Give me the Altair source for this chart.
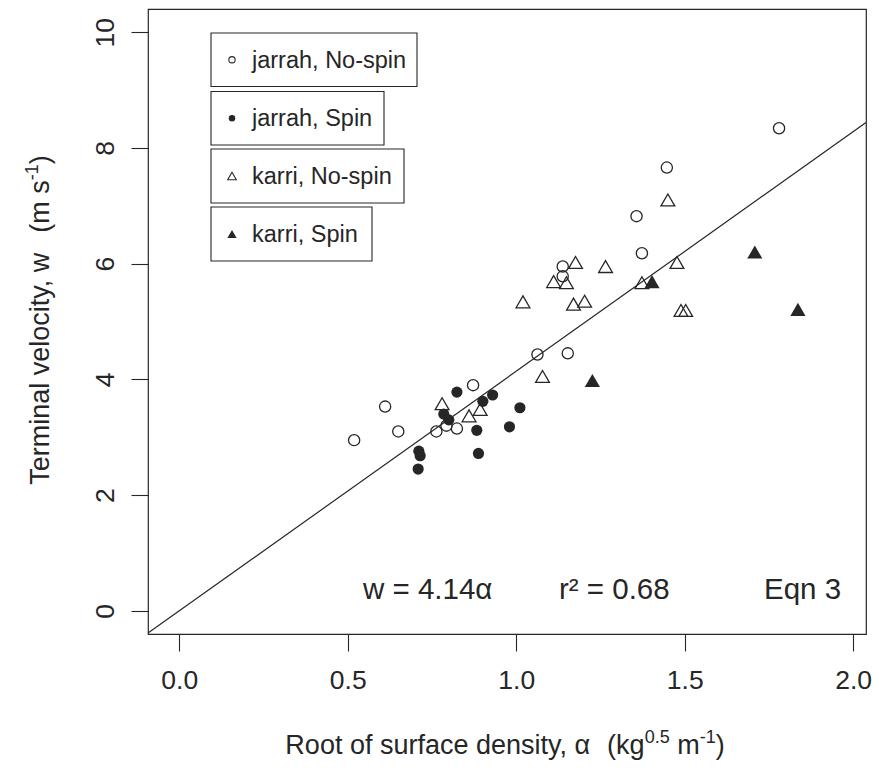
import altair as alt
import pandas as pd

# ---------------- data ----------------
jn_alpha = [0.519, 0.611, 0.650, 0.763, 0.793, 0.824, 0.872, 1.063, 1.153, 1.138, 1.138, 1.357, 1.373, 1.447, 1.780]
jn_w     = [2.95, 3.53, 3.10, 3.10, 3.20, 3.15, 3.90, 4.43, 4.45, 5.95, 5.78, 6.82, 6.18, 7.66, 8.34]

js_alpha = [0.824, 0.930, 0.901, 1.011, 0.785, 0.800, 0.883, 0.980, 0.711, 0.715, 0.888, 0.709]
js_w     = [3.78, 3.73, 3.62, 3.51, 3.40, 3.30, 3.12, 3.18, 2.76, 2.68, 2.72, 2.45]

kn_alpha = [1.450, 1.176, 1.265, 1.111, 1.149, 1.170, 1.203, 1.020, 1.373, 1.078, 0.780, 0.860, 0.893, 1.477, 1.489, 1.503]
kn_w     = [7.10, 6.02, 5.95, 5.69, 5.67, 5.30, 5.35, 5.34, 5.67, 4.05, 3.58, 3.37, 3.48, 6.02, 5.19, 5.19]

ks_alpha = [1.226, 1.403, 1.708, 1.836]
ks_w     = [3.98, 5.69, 6.20, 5.21]

slope = 4.14
x_domain = [-0.0927, 2.038]
y_domain = [-0.4, 10.4]

legend_labels = ["jarrah, No-spin", "jarrah, Spin", "karri, No-spin", "karri, Spin"]
x_ticks = [0, 0.5, 1.0, 1.5, 2.0]
y_ticks = [0, 2, 4, 6, 8, 10]

NB = "\u00a0"
# (text, kind): "n" normal, "s" superscript, "g" one-space gap
x_title = [("Root of surface density, α", "n"), ("", "g"), ("", "g"), ("(kg", "n"), ("0.5", "s"),
           ("", "g"), ("m", "n"), ("-1", "s"), (")", "n")]
y_title = [("Terminal velocity, w", "n"), ("", "g"), ("", "g"), ("(m" + NB + "s", "n"),
           ("-1", "s"), (")", "n")]

# ---------------- style ----------------
FONT = "Liberation Sans, Arial, Helvetica, sans-serif"
INK = "#262626"
W, H = 718, 625
TFS, SFS, RAISE = 27, 18, 11
xsc = alt.Scale(domain=x_domain, nice=False, zero=False)
ysc = alt.Scale(domain=y_domain, nice=False, zero=False)

# Arial / Liberation Sans advance widths (per 1000 em)
AW = {" ": 278, NB: 278, "(": 333, ")": 333, ",": 278, ".": 278, "-": 333,
      "a": 556, "c": 500, "d": 556, "e": 556, "f": 278, "g": 556, "i": 222, "k": 500,
      "l": 222, "m": 833, "n": 556, "o": 556, "r": 333, "s": 500, "t": 278, "u": 556,
      "v": 500, "w": 722, "y": 500, "R": 722, "T": 611, "α": 578}


def piece_width(s, kind):
    if kind == "g":
        return 278 * TFS / 1000
    fs = SFS if kind == "s" else TFS
    return sum(AW.get(c, 556) for c in s) * fs / 1000


xaxis = alt.Axis(values=x_ticks, format=".1f", grid=False, domain=False,
                 tickSize=17, tickColor=INK, tickWidth=1.1,
                 labelPadding=16, labelFontSize=26.5, labelFont=FONT, labelColor=INK,
                 title="")
yaxis = alt.Axis(values=y_ticks, format="d", grid=False, domain=False,
                 tickSize=17, tickColor=INK, tickWidth=1.1,
                 labelPadding=26, labelFontSize=26.5, labelFont=FONT, labelColor=INK,
                 labelAngle=270, labelAlign="center", labelBaseline="middle",
                 title="")

one = alt.Data(values=[{"k": 0}])

# regression line w = 4.14 alpha, across the whole plot
line = alt.Chart(pd.DataFrame({"alpha": x_domain})).transform_calculate(
    w=f"{slope} * datum.alpha"
).mark_line(color=INK, strokeWidth=1.2, clip=True).encode(
    x=alt.X("alpha:Q", scale=xsc, axis=xaxis),
    y=alt.Y("w:Q", scale=ysc, axis=yaxis),
)


def pts(a, w, shape, filled, size):
    m = alt.Chart(pd.DataFrame({"alpha": a, "w": w})).mark_point(
        shape=shape, filled=filled, size=size,
        color=INK, strokeWidth=1.3, opacity=1, fillOpacity=1
    )
    return m.encode(x=alt.X("alpha:Q", scale=xsc), y=alt.Y("w:Q", scale=ysc))


layers = [
    line,
    pts(jn_alpha, jn_w, "circle", False, 125),
    pts(js_alpha, js_w, "circle", True, 125),
    pts(kn_alpha, kn_w, "triangle-up", False, 190),
    pts(ks_alpha, ks_w, "triangle-up", True, 230),
]

# ---------------- four separate legend boxes ----------------
boxes = [(63, 269, 24, 77.5), (63, 236, 82.5, 136), (63, 256, 140, 194), (63, 224, 198, 252)]
syms = [("circle", False, 40), ("circle", True, 42), ("triangle-up", False, 75), ("triangle-up", True, 85)]
for (x0, x1, y0, y1), (shp, fil, sz), lab in zip(boxes, syms, legend_labels):
    yc = (y0 + y1) / 2
    layers.append(alt.Chart(one).mark_rect(fill="white", stroke=INK, strokeWidth=1.1).encode(
        x=alt.value(x0), x2=alt.value(x1), y=alt.value(y0), y2=alt.value(y1)))
    layers.append(alt.Chart(one).mark_point(shape=shp, filled=fil, size=sz, color=INK,
                                            strokeWidth=1.1, opacity=1).encode(
        x=alt.value(84), y=alt.value(yc)))
    layers.append(alt.Chart(one).mark_text(align="left", baseline="middle", font=FONT,
                                           fontSize=23.5, color=INK).encode(
        x=alt.value(104), y=alt.value(yc + 1), text=alt.value(lab)))

# ---------------- annotation ----------------
notes = [("w = 4.14α", 215), ("r² = 0.68", 411), ("Eqn 3", 616)]
for txt, xp in notes:
    layers.append(alt.Chart(one).mark_text(align="left", baseline="middle", font=FONT,
                                           fontSize=29.5, color=INK).encode(
        x=alt.value(xp), y=alt.value(581), text=alt.value(txt)))

# ---------------- axis titles with real superscripts ----------------
total = sum(piece_width(s, k) for s, k in x_title)
cx = 357 - total / 2
for s, k in x_title:
    if k != "g":
        fs = SFS if k == "s" else TFS
        layers.append(alt.Chart(one).mark_text(align="left", baseline="alphabetic", font=FONT,
                                               fontSize=fs, color=INK).encode(
            x=alt.value(cx), y=alt.value(745 - (RAISE if k == "s" else 0)), text=alt.value(s)))
    cx += piece_width(s, k)

total = sum(piece_width(s, k) for s, k in y_title)
cy = 311 + total / 2
for s, k in y_title:
    if k != "g":
        fs = SFS if k == "s" else TFS
        layers.append(alt.Chart(one).mark_text(align="left", baseline="alphabetic", font=FONT,
                                               fontSize=fs, color=INK, angle=270).encode(
            x=alt.value(-99 - (RAISE if k == "s" else 0)), y=alt.value(cy), text=alt.value(s)))
    cy -= piece_width(s, k)

chart = alt.layer(*layers).properties(
    width=W, height=H,
    autosize=alt.AutoSizeParams(type="none"),
    padding={"left": 140, "top": 1, "right": 6, "bottom": 130},
    background="white",
).configure_view(stroke=INK, strokeWidth=1.2)

chart.save("out.html", embed_options={"renderer": "svg", "actions": False})
